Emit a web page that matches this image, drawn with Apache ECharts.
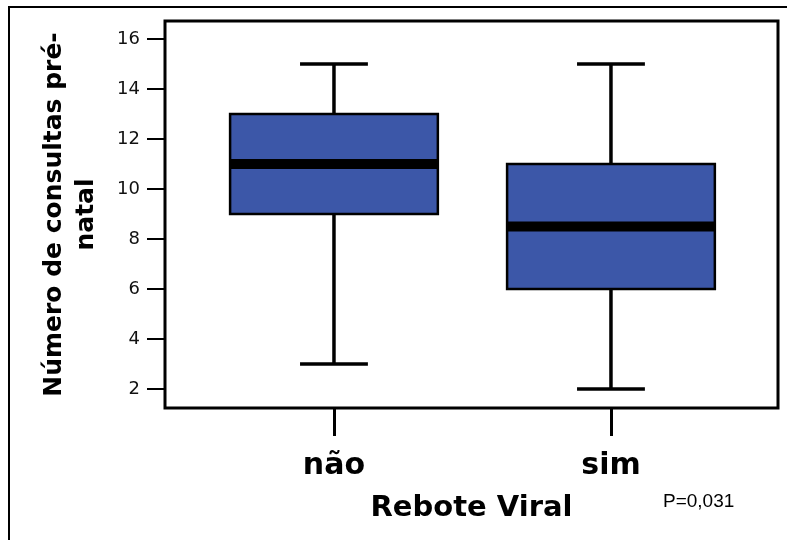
<!DOCTYPE html>
<html>
<head>
	<meta charset="UTF-8">
	<title>Rebote Viral</title>
	<style>
		html, body { margin: 0; padding: 0; background: #fff; }
		#chart { width: 787px; height: 540px; }
	</style>
</head>
<body>
	<div id="chart"></div>
	<script src="https://cdn.jsdelivr.net/npm/echarts@6/dist/echarts.min.js"></script>
	<script>
		// dados do boxplot
		var categories = ['não', 'sim'];
		var positions = [0, 1];
		var minimum = [3, 2];
		var q1 = [9, 6];
		var median = [11, 8.5];
		var q3 = [13, 11];
		var maximum = [15, 15];
		var yTicks = [2, 4, 6, 8, 10, 12, 14, 16];

		var boxWidth = 0.75;
		var capWidth = 0.245;

		var rows = [];
		for (var i = 0; i < categories.length; i++) {
			rows.push([positions[i], minimum[i], q1[i], median[i], q3[i], maximum[i]]);
		}

		function renderItem(params, api) {
			var x = api.value(0);
			var pMin = api.coord([x, api.value(1)]);
			var pQ1 = api.coord([x, api.value(2)]);
			var pMed = api.coord([x, api.value(3)]);
			var pQ3 = api.coord([x, api.value(4)]);
			var pMax = api.coord([x, api.value(5)]);
			var halfBox = api.size([boxWidth, 0])[0] / 2;
			var halfCap = api.size([capWidth, 0])[0] / 2;
			var line = { stroke: '#000', lineWidth: 3.5 };
			return {
				type: 'group',
				children: [
					{ type: 'line', shape: { x1: pMin[0], y1: pMin[1], x2: pQ1[0], y2: pQ1[1] }, style: line },
					{ type: 'line', shape: { x1: pMax[0], y1: pMax[1], x2: pQ3[0], y2: pQ3[1] }, style: line },
					{ type: 'line', shape: { x1: pMin[0] - halfCap, y1: pMin[1], x2: pMin[0] + halfCap, y2: pMin[1] }, style: line },
					{ type: 'line', shape: { x1: pMax[0] - halfCap, y1: pMax[1], x2: pMax[0] + halfCap, y2: pMax[1] }, style: line },
					{
						type: 'rect',
						shape: { x: pQ3[0] - halfBox, y: pQ3[1], width: halfBox * 2, height: pQ1[1] - pQ3[1] },
						style: { fill: '#3c57a8', stroke: '#000', lineWidth: 2.5 }
					},
					{
						type: 'line',
						shape: { x1: pMed[0] - halfBox, y1: pMed[1], x2: pMed[0] + halfBox, y2: pMed[1] },
						style: { stroke: '#000', lineWidth: 10 }
					}
				]
			};
		}

		var myChart = echarts.init(document.getElementById('chart'));
		myChart.setOption({
			animation: false,
			backgroundColor: '#fff',
			grid: {
				left: 165, right: 9, top: 21, bottom: 132,
				show: true, borderColor: '#000', borderWidth: 3
			},
			xAxis: {
				type: 'value',
				min: -0.61,
				max: 1.603,
				splitLine: { show: false },
				axisLine: { show: false, onZero: false },
				axisTick: { show: true, length: 28, customValues: positions, lineStyle: { color: '#000', width: 3 } },
				axisLabel: {
					customValues: positions,
					margin: 43,
					fontFamily: 'DejaVu Sans',
					fontWeight: 'bold',
					fontSize: 30,
					color: '#000',
					formatter: function (v) { return categories[positions.indexOf(v)]; }
				},
				name: 'Rebote Viral',
				nameLocation: 'middle',
				nameGap: 86,
				nameTextStyle: { fontFamily: 'DejaVu Sans', fontWeight: 'bold', fontSize: 29, color: '#000' }
			},
			yAxis: {
				type: 'value',
				min: 1.24,
				max: 16.72,
				splitLine: { show: false },
				axisLine: { show: false, onZero: false },
				axisTick: { show: true, length: 18, customValues: yTicks, lineStyle: { color: '#000', width: 2 } },
				axisLabel: {
					customValues: yTicks,
					margin: 25,
					fontFamily: 'DejaVu Sans',
					fontSize: 18,
					color: '#111'
				},
				name: 'Número de consultas pré-\nnatal',
				nameLocation: 'middle',
				nameGap: 63,
				nameTextStyle: { fontFamily: 'DejaVu Sans', fontWeight: 'bold', fontSize: 25, lineHeight: 32, color: '#000' }
			},
			graphic: [
				{
					type: 'rect',
					shape: { x: 9, y: 7, width: 800, height: 560 },
					style: { fill: 'none', stroke: '#000', lineWidth: 2 },
					silent: true
				},
				{
					type: 'text',
					left: 663,
					top: 492,
					style: { text: 'P=0,031', font: '19px "Liberation Sans"', fill: '#000' }
				}
			],
			series: [{
				type: 'custom',
				renderItem: renderItem,
				encode: { x: 0, y: [1, 2, 3, 4, 5] },
				data: rows
			}]
		});
	</script>
</body>
</html>
